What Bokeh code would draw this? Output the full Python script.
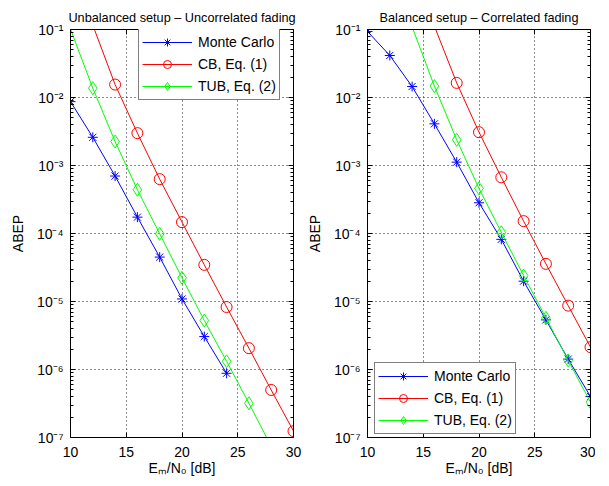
from bokeh.plotting import figure
from bokeh.models import (LogAxis, LinearAxis, FixedTicker, Legend, LegendItem,
                          Range1d, Title)
from bokeh.layouts import row
from bokeh.embed import file_html
from bokeh.resources import INLINE

# ---------------- data ----------------
# Left panel: Unbalanced setup - Uncorrelated fading
left_mc_x = [10, 12, 14, 16, 18, 20, 22, 24]
left_mc_y = [8.7e-3, 2.6e-3, 7.0e-4, 1.74e-4, 4.5e-5, 1.09e-5, 3.05e-6, 8.8e-7]
left_cb_x = [12, 14, 16, 18, 20, 22, 24, 26, 28, 30]
left_cb_y = [1.16e-1, 1.55e-2, 2.99e-3, 6.3e-4, 1.47e-4, 3.46e-5, 8.3e-6, 2.06e-6, 5.0e-7, 1.24e-7]
left_tub_x = [10, 12, 14, 16, 18, 20, 22, 24, 26, 28]
left_tub_y = [1.01e-1, 1.37e-2, 2.25e-3, 4.4e-4, 9.9e-5, 2.23e-5, 5.26e-6, 1.32e-6, 3.19e-7, 7.4e-8]

# Right panel: Balanced setup - Correlated fading
right_mc_x = [10, 12, 14, 16, 18, 20, 22, 24, 26, 28, 30]
right_mc_y = [9.35e-2, 4.15e-2, 1.45e-2, 4.1e-3, 1.12e-3, 2.83e-4, 8.2e-5, 1.99e-5, 5.37e-6, 1.42e-6, 4.0e-7]
right_cb_x = [16, 18, 20, 22, 24, 26, 28, 30]
right_cb_y = [1.12e-1, 1.64e-2, 3.09e-3, 6.7e-4, 1.52e-4, 3.58e-5, 8.7e-6, 2.13e-6]
right_tub_x = [14, 16, 18, 20, 22, 24, 26, 28, 30]
right_tub_y = [1.1e-1, 1.47e-2, 2.39e-3, 4.6e-4, 1.04e-4, 2.41e-5, 5.75e-6, 1.36e-6, 3.3e-7]

series_names = ["Monte Carlo", "CB, Eq. (1)", "TUB, Eq. (2)"]
series_colors = ["#0000ff", "#ff0000", "#00ff00"]
series_markers = ["asterisk", "circle", "diamond"]
series_sizes = [10, 11, 13]

x_ticks = [10, 15, 20, 25, 30]
y_ticks = [1e-7, 1e-6, 1e-5, 1e-4, 1e-3, 1e-2, 1e-1]
y_tick_labels = ["10⁻⁷", "10⁻⁶", "10⁻⁵", "10⁻⁴", "10⁻³", "10⁻²", "10⁻¹"]
y_minor = [m * d for d in y_ticks[:-1] for m in range(2, 10)]

FONT = "Liberation Sans"
YMIN, YMAX = 1e-7, 1e-1


def style_axis(ax, ticks, show_labels=True):
    ax.axis_line_color = "black"
    ax.major_tick_line_color = "black"
    ax.minor_tick_line_color = "black"
    ax.major_tick_in = 5
    ax.major_tick_out = 0
    ax.minor_tick_in = 3
    ax.minor_tick_out = 0
    ax.major_label_text_font = FONT
    ax.major_label_text_color = "black"
    if show_labels:
        ax.major_label_text_font_size = "14px"
    else:
        ax.major_label_text_font_size = "1px"
        ax.major_label_standoff = 0
        ax.major_label_overrides = {t: "" for t in ticks}


def make_fig(title, data, legend_loc, min_left, min_right):
    p = figure(x_range=Range1d(10, 30), y_range=Range1d(YMIN, YMAX),
               y_axis_type="log", frame_width=223, frame_height=408,
               min_border_left=min_left, min_border_right=min_right,
               min_border_top=29, min_border_bottom=45,
               output_backend="svg", toolbar_location=None, title=None,
               background_fill_color="white", border_fill_color="white")

    xt = FixedTicker(ticks=x_ticks, minor_ticks=[])
    yt = FixedTicker(ticks=y_ticks, minor_ticks=y_minor)
    p.xaxis.ticker = xt
    p.yaxis.ticker = yt
    style_axis(p.xaxis[0], x_ticks)
    style_axis(p.yaxis[0], y_ticks)
    p.xaxis.major_label_standoff = 9
    p.yaxis.major_label_standoff = 7
    p.yaxis.major_label_overrides = dict(zip(y_ticks, y_tick_labels))
    p.xaxis.axis_label = "Eₘ/N₀ [dB]"
    p.yaxis.axis_label = "ABEP"
    for ax in (p.xaxis[0], p.yaxis[0]):
        ax.axis_label_text_font = FONT
        ax.axis_label_text_font_size = "14px"
        ax.axis_label_text_font_style = "normal"
        ax.axis_label_text_color = "black"
    p.xaxis.axis_label_standoff = 0
    p.yaxis.axis_label_standoff = 8

    top = LinearAxis(ticker=xt)
    style_axis(top, x_ticks, show_labels=False)
    p.add_layout(top, "above")
    right = LogAxis(ticker=yt)
    style_axis(right, y_ticks, show_labels=False)
    p.add_layout(right, "right")

    ttl = Title(text=title, align="center", text_font=FONT,
                text_font_size="12.7px", text_font_style="normal",
                text_color="black", standoff=9)
    p.add_layout(ttl, "above")

    p.grid.grid_line_color = "black"
    p.grid.grid_line_dash = "1 3"
    p.grid.grid_line_width = 1
    p.grid.grid_line_alpha = 0.9
    p.outline_line_color = "black"
    p.outline_line_alpha = 1

    items = []
    for (xs, ys), name, col, mk, sz in zip(data, series_names, series_colors,
                                           series_markers, series_sizes):
        ln = p.line(xs, ys, line_color=col, line_width=1)
        mx = [x for x, y in zip(xs, ys) if YMIN <= y <= YMAX]
        my = [y for y in ys if YMIN <= y <= YMAX]
        sc = p.scatter(mx, my, marker=mk, size=sz, line_color=col,
                       fill_color=None, line_width=1)
        items.append(LegendItem(label=name, renderers=[ln, sc]))

    leg = Legend(items=items, location=legend_loc)
    leg.label_text_font = FONT
    leg.label_text_font_size = "14px"
    leg.label_text_color = "black"
    leg.border_line_color = "black"
    leg.border_line_width = 1
    leg.background_fill_color = "white"
    leg.background_fill_alpha = 1
    leg.glyph_width = 50
    leg.glyph_height = 20
    leg.label_height = 20
    leg.spacing = 2
    leg.padding = 3
    leg.margin = 0
    leg.label_standoff = 6
    p.add_layout(leg, "center")
    return p


p1 = make_fig("Unbalanced setup – Uncorrelated fading",
              [(left_mc_x, left_mc_y), (left_cb_x, left_cb_y), (left_tub_x, left_tub_y)],
              (68, 337), 70, 10)
p2 = make_fig("Balanced setup – Correlated fading",
              [(right_mc_x, right_mc_y), (right_cb_x, right_cb_y), (right_tub_x, right_tub_y)],
              (7, 3), 62, 5)

layout = row(p1, p2)
open("out.html", "w").write(file_html(layout, INLINE))
